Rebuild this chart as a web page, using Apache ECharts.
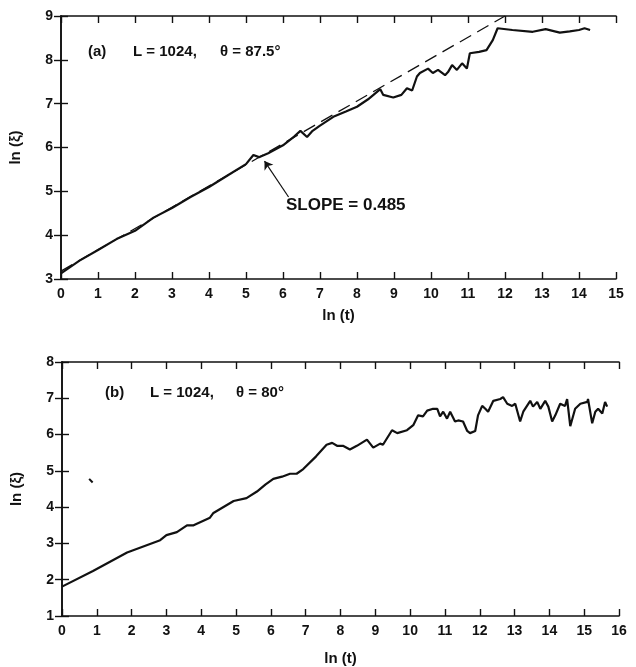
<!DOCTYPE html>
<html><head><meta charset="utf-8">
<script src="https://cdn.jsdelivr.net/npm/echarts@6/dist/echarts.min.js"></script>
<style>html,body{margin:0;padding:0;background:#fff}#c{width:636px;height:667px}</style>
</head><body><div id="c"></div>
<script>
// ---- Panel (a) data: ln(t), ln(xi) ----
const aT  = [0,0.5,1,1.5,2,2.5,3,3.5,4,4.5,5,5.2,5.35,5.6,6,6.3,6.47,6.65,6.8,7,7.36,7.7,8,8.3,8.63,8.71,8.98,9.2,9.35,9.49,9.62,9.7,9.92,10.05,10.19,10.38,10.46,10.57,10.7,10.84,10.97,11.05,11.3,11.5,11.67,11.8,12.2,12.75,13.1,13.48,13.75,14.0,14.15,14.3];
const aXi = [3.13,3.42,3.66,3.91,4.10,4.40,4.62,4.87,5.10,5.36,5.62,5.83,5.78,5.87,6.05,6.25,6.38,6.24,6.38,6.50,6.70,6.82,6.93,7.10,7.33,7.20,7.14,7.20,7.35,7.30,7.62,7.70,7.80,7.70,7.77,7.65,7.72,7.88,7.77,7.92,7.80,8.15,8.18,8.22,8.45,8.72,8.68,8.64,8.70,8.62,8.65,8.68,8.72,8.68];
// slope 0.485 fit line end points
const fitT  = [0, 12.0];
const fitXi = [3.18, 9.0];
// arrow from label to curve
const arrowFrom = [6.15, 4.87];
const arrowTo   = [5.5, 5.69];

// ---- Panel (b) data ----
const bT  = [0,0.89,1.87,2.82,3.0,3.3,3.59,3.78,4.25,4.35,4.93,5.3,5.6,5.84,6.07,6.32,6.55,6.74,6.93,7.3,7.6,7.76,7.9,8.07,8.27,8.47,8.76,8.94,9.14,9.22,9.48,9.63,9.91,10.09,10.23,10.37,10.49,10.66,10.78,10.86,10.95,11.06,11.15,11.29,11.38,11.52,11.64,11.72,11.87,11.95,12.07,12.16,12.24,12.39,12.59,12.67,12.79,12.93,13.02,13.16,13.25,13.45,13.53,13.65,13.74,13.88,13.97,14.08,14.17,14.31,14.45,14.51,14.6,14.74,14.89,15.09,15.11,15.23,15.32,15.4,15.52,15.6,15.66];
const bXi = [1.81,2.24,2.75,3.09,3.23,3.31,3.50,3.50,3.71,3.84,4.17,4.25,4.43,4.62,4.78,4.84,4.92,4.92,5.05,5.40,5.72,5.77,5.69,5.69,5.59,5.69,5.86,5.64,5.75,5.72,6.12,6.04,6.12,6.26,6.53,6.50,6.66,6.71,6.71,6.50,6.63,6.44,6.63,6.36,6.39,6.36,6.10,6.04,6.10,6.53,6.79,6.71,6.63,6.93,6.98,7.03,6.85,6.79,6.85,6.36,6.63,6.93,6.77,6.90,6.71,6.93,6.77,6.36,6.53,6.85,6.79,6.98,6.23,6.71,6.85,6.90,6.98,6.31,6.63,6.71,6.58,6.90,6.77];
// small stray mark in panel (b)
const specT  = [0.78, 0.88];
const specXi = [4.78, 4.68];

const aXTicks = {min:0, max:15, interval:1};
const aYTicks = {min:3, max:9, interval:1};
const bXTicks = {min:0, max:16, interval:1};
const bYTicks = {min:1, max:8, interval:1};

const zip = (xs, ys) => xs.map((x, i) => [x, ys[i]]);

const FF = '"Liberation Sans", Arial, Helvetica, sans-serif';
const INK = '#111';
const labelStyle = {color: INK, fontFamily: FF, fontWeight: 'bold', fontSize: 14, margin: 8};
const nameStyle = {color: INK, fontFamily: FF, fontWeight: 'bold', fontSize: 15};
const axLine = {show: true, lineStyle: {color: INK, width: 1.6}};
const tick = {show: true, inside: true, length: 7, lineStyle: {color: INK, width: 1.4}};

function mainX(grid, t, gap) {
  return {type:'value', gridIndex:grid, position:'bottom', min:t.min, max:t.max, interval:t.interval,
    name:'ln (t)', nameLocation:'middle', nameGap:gap, nameTextStyle:nameStyle,
    axisLine:axLine, axisTick:tick, axisLabel:labelStyle, splitLine:{show:false}};
}
function mirrorX(grid, t) {
  return {type:'value', gridIndex:grid, position:'top', min:t.min, max:t.max, interval:t.interval,
    axisLine:axLine, axisTick:tick, axisLabel:{show:false}, splitLine:{show:false}};
}
function mainY(grid, t) {
  return {type:'value', gridIndex:grid, position:'left', min:t.min, max:t.max, interval:t.interval,
    name:'ln (ξ)', nameLocation:'middle', nameGap:38, nameRotate:90, nameTextStyle:nameStyle,
    axisLine:axLine, axisTick:tick, axisLabel:labelStyle, splitLine:{show:false}};
}
function mirrorY(grid, t) {
  return {type:'value', gridIndex:grid, position:'right', min:t.min, max:t.max, interval:t.interval,
    axisLine:axLine, axisTick:tick, axisLabel:{show:false}, splitLine:{show:false}};
}

const chart = echarts.init(document.getElementById('c'), null, {renderer:'canvas'});
const txt = (s, x, y, size) => ({type:'text', x:x, y:y, style:{text:s, fill:INK, font:'bold ' + (size || 15) + 'px ' + FF, textVerticalAlign:'middle'}});

chart.setOption({
  animation:false,
  backgroundColor:'#fff',
  grid:[
    {left:60, top:16, width:556, height:263},
    {left:62, top:362, width:557, height:261}
  ],
  xAxis:[mainX(0, aXTicks, 29), mirrorX(0, aXTicks), mainX(1, bXTicks, 35), mirrorX(1, bXTicks)],
  yAxis:[mainY(0, aYTicks), mirrorY(0, aYTicks), mainY(1, bYTicks), mirrorY(1, bYTicks)],
  series:[
    {type:'line', xAxisIndex:0, yAxisIndex:0, data:zip(fitT, fitXi), showSymbol:false, silent:true,
      lineStyle:{color:INK, width:1.3, type:[13,7]}},
    {type:'line', xAxisIndex:0, yAxisIndex:0, data:zip(aT, aXi), showSymbol:false, silent:true,
      lineStyle:{color:INK, width:2.2}},
    {type:'lines', coordinateSystem:'cartesian2d', xAxisIndex:0, yAxisIndex:0, silent:true,
      symbol:['none','arrow'], symbolSize:8,
      lineStyle:{color:INK, width:1.2, opacity:1},
      data:[{coords:[arrowFrom, arrowTo]}]},
    {type:'line', xAxisIndex:2, yAxisIndex:2, data:zip(bT, bXi), showSymbol:false, silent:true,
      lineStyle:{color:INK, width:2.2}},
    {type:'line', xAxisIndex:2, yAxisIndex:2, data:zip(specT, specXi), showSymbol:false, silent:true,
      lineStyle:{color:INK, width:2}}
  ],
  graphic:[
    txt('(a)', 88, 52), txt('L = 1024,', 133, 52), txt('θ = 87.5°', 220, 52),
    txt('SLOPE = 0.485', 286, 205, 17),
    txt('(b)', 105, 393), txt('L = 1024,', 150, 393), txt('θ = 80°', 236, 393)
  ]
});
</script></body></html>
